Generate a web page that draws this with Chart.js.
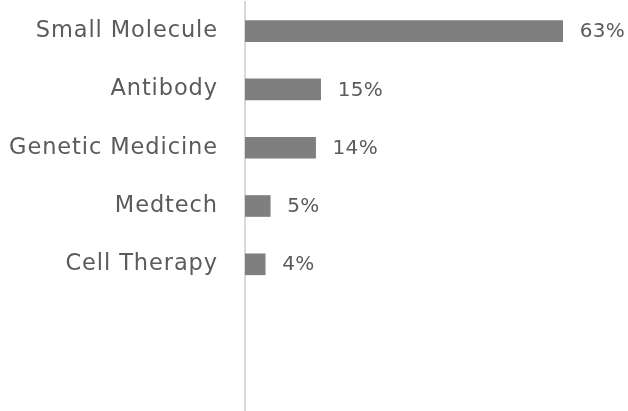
<!DOCTYPE html>
<html>
<head>
<meta charset="utf-8">
<script src="https://cdn.jsdelivr.net/npm/chart.js@4/dist/chart.umd.min.js"></script>
<style>
  html, body { margin: 0; padding: 0; background: #ffffff; overflow: hidden; }
  canvas { display: block; }
</style>
</head>
<body>
<canvas id="chart" width="628" height="411"></canvas>
<script>
// Share of programmes by modality (%)
const categories = ['Small Molecule', 'Antibody', 'Genetic Medicine', 'Medtech', 'Cell Therapy', '', ''];
const shares = [63, 15, 14, 5, 4, null, null];

const TEXT_COLOR = '#5b5b5b';
const FONT_FAMILY = '"DejaVu Sans", sans-serif';

// Writes "NN%" just past the end of each bar
const valueLabels = {
  id: 'valueLabels',
  afterDatasetsDraw(chart) {
    const ctx = chart.ctx;
    const meta = chart.getDatasetMeta(0);
    ctx.save();
    ctx.letterSpacing = '0.3px';
    ctx.font = '20px ' + FONT_FAMILY;
    ctx.fillStyle = TEXT_COLOR;
    ctx.textAlign = 'left';
    ctx.textBaseline = 'middle';
    meta.data.forEach((bar, i) => {
      const v = shares[i];
      if (v == null) return;
      ctx.fillText(v + '%', bar.x + 17, bar.y + 1);
    });
    ctx.restore();
  }
};

// Slightly wider tracking for the category labels
const tracking = {
  id: 'tracking',
  beforeDraw(chart) {
    chart.ctx.letterSpacing = '0.9px';
  }
};

new Chart(document.getElementById('chart'), {
  type: 'bar',
  data: {
    labels: categories,
    datasets: [{
      data: shares,
      backgroundColor: '#7f7f7f',
      borderWidth: 0,
      barThickness: 21
    }]
  },
  options: {
    indexAxis: 'y',
    responsive: false,
    maintainAspectRatio: false,
    animation: false,
    devicePixelRatio: 1,
    layout: { padding: { top: 2, bottom: 1, left: 0, right: 30 } },
    plugins: {
      legend: { display: false },
      tooltip: { enabled: false }
    },
    scales: {
      x: {
        display: false,
        min: 0,
        max: 70
      },
      y: {
        afterFit(scale) {
          // fixed label column; the axis line runs the full height
          scale.width = 245;
          scale.paddingTop = 0;
          scale.paddingBottom = 0;
        },
        grid: { display: false, drawTicks: false },
        border: { display: true, color: '#d9d9d9', width: 2 },
        ticks: {
          padding: 27,
          color: TEXT_COLOR,
          font: { family: FONT_FAMILY, size: 22.5 }
        }
      }
    }
  },
  plugins: [valueLabels, tracking]
});
</script>
</body>
</html>
